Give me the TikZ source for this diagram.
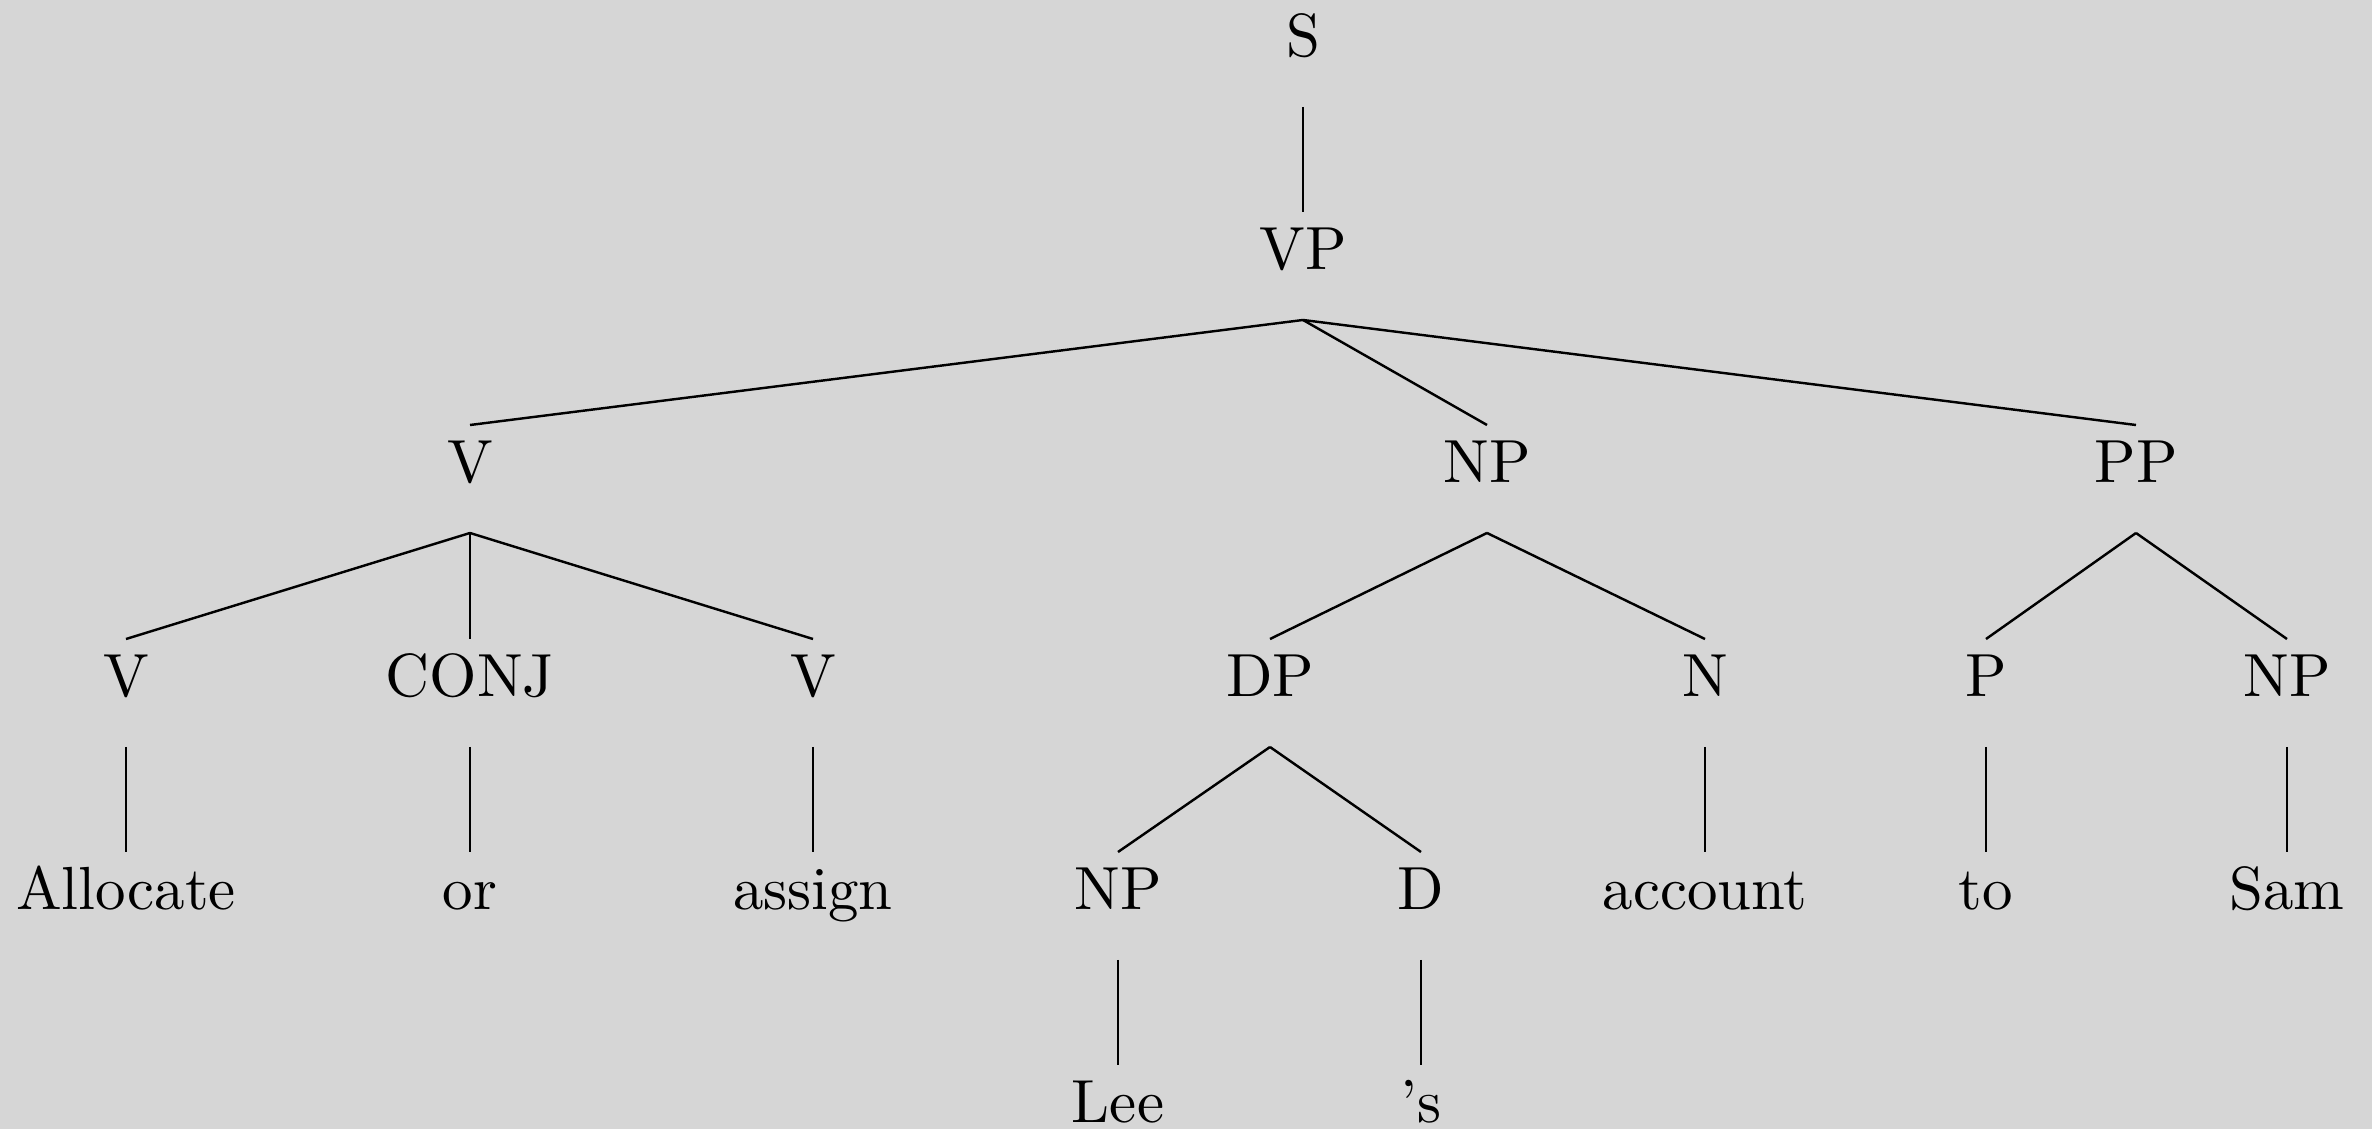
\documentclass[tikz,border=0pt]{standalone}
\definecolor{bgc}{RGB}{214,214,214}
\begin{document}
\begin{tikzpicture}[x=0.1642pt,y=-0.1642pt,
  lbl/.style={anchor=base,inner sep=0pt,outer sep=0pt,text height=9.36pt,text depth=8.37pt},
  branch/.style={line width=0.4pt,black}]
\fill[bgc] (0,0) rectangle (2372,1129);
\useasboundingbox (0,0) rectangle (2372,1129);

% level 0 and 1
\node[lbl] (s)  at (1303,56)  {S};
\node[lbl] (vp) at (1303,269) {VP};
% level 2
\node[lbl] (v)  at (470,482)  {V};
\node[lbl] (np) at (1487,482) {NP};
\node[lbl] (pp) at (2136,482) {PP};
% level 3
\node[lbl] (va)   at (126,696)  {V};
\node[lbl] (conj) at (470,696)  {CONJ};
\node[lbl] (vb)   at (813,696)  {V};
\node[lbl] (dp)   at (1270,696) {DP};
\node[lbl] (n)    at (1705,696) {N};
\node[lbl] (p)    at (1986,696) {P};
\node[lbl] (npb)  at (2287,696) {NP};
% level 4
\node[lbl] (wallocate) at (126,909)  {Allocate};
\node[lbl] (wor)       at (470,909)  {or};
\node[lbl] (wassign)   at (813,909)  {assign};
\node[lbl] (npc)       at (1118,909) {NP};
\node[lbl] (d)         at (1421,909) {D};
\node[lbl] (waccount)  at (1705,909) {account};
\node[lbl] (wto)       at (1986,909) {to};
\node[lbl] (wsam)      at (2287,909) {Sam};
% level 5
\node[lbl] (wlee) at (1118,1122) {Lee};
\node[lbl] (wposs) at (1421,1122) {'s};

% branches
\draw[branch] (s.south) -- (vp.north);
\draw[branch] (vp.south) -- (v.north);
\draw[branch] (vp.south) -- (np.north);
\draw[branch] (vp.south) -- (pp.north);
\draw[branch] (v.south) -- (va.north);
\draw[branch] (v.south) -- (conj.north);
\draw[branch] (v.south) -- (vb.north);
\draw[branch] (np.south) -- (dp.north);
\draw[branch] (np.south) -- (n.north);
\draw[branch] (pp.south) -- (p.north);
\draw[branch] (pp.south) -- (npb.north);
\draw[branch] (va.south) -- (wallocate.north);
\draw[branch] (conj.south) -- (wor.north);
\draw[branch] (vb.south) -- (wassign.north);
\draw[branch] (dp.south) -- (npc.north);
\draw[branch] (dp.south) -- (d.north);
\draw[branch] (n.south) -- (waccount.north);
\draw[branch] (p.south) -- (wto.north);
\draw[branch] (npb.south) -- (wsam.north);
\draw[branch] (npc.south) -- (wlee.north);
\draw[branch] (d.south) -- (wposs.north);
\end{tikzpicture}
\end{document}
